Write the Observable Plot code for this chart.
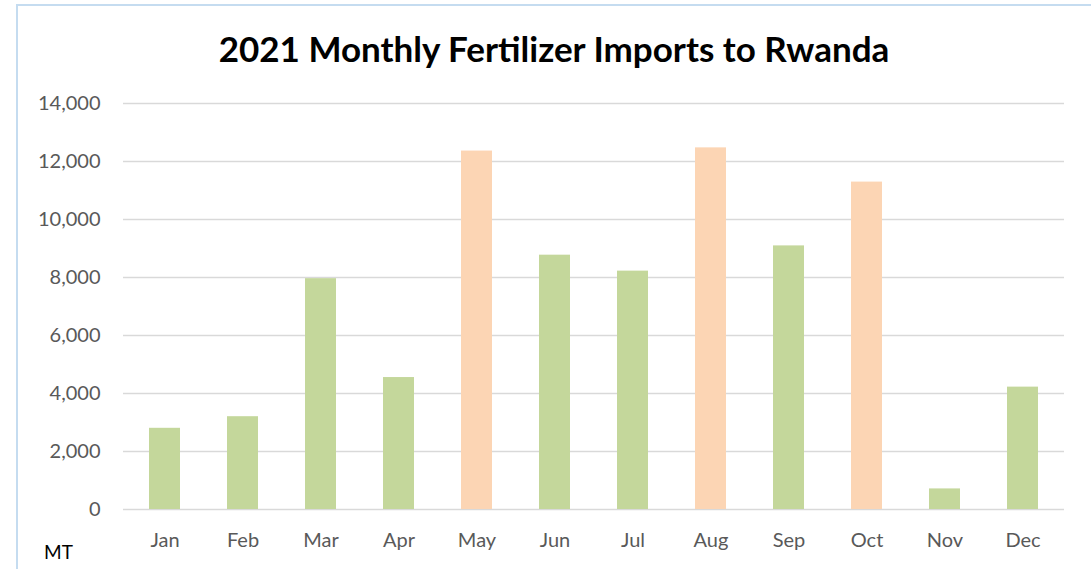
<!DOCTYPE html>
<html>
<head>
<meta charset="utf-8">
<script src="https://cdn.jsdelivr.net/npm/d3@7"></script>
<script src="https://cdn.jsdelivr.net/npm/@observablehq/plot@0.6"></script>
<style>
  html, body { margin: 0; padding: 0; background: #fff; overflow: hidden; }
  #wrap { position: relative; width: 1091px; height: 569px; overflow: hidden; font-family: Lato, "Open Sans", sans-serif; }
  #frame { position: absolute; left: 16px; top: 4px; width: 1200px; height: 700px; border: 2px solid #c5dcf0; box-sizing: border-box; }
  #title { position: absolute; left: 0; width: 1108px; top: 27px; text-align: center; font-weight: bold; font-size: 35px; color: #000; }
  #unit { position: absolute; left: 44px; top: 540px; font-size: 19px; color: #000; }
  #chart { position: absolute; left: 0; top: 0; }
</style>
</head>
<body>
<div id="wrap">
  <div id="frame"></div>
  <div id="chart"></div>
  <div id="title">2021 Monthly Fertilizer Imports to Rwanda</div>
  <div id="unit">MT</div>
</div>
<script>
const months = ["Jan","Feb","Mar","Apr","May","Jun","Jul","Aug","Sep","Oct","Nov","Dec"];
const imports = [2800, 3200, 7960, 4550, 12360, 8770, 8220, 12470, 9090, 11290, 710, 4220];
const highlighted = ["May","Aug","Oct"];
const yTicks = [0, 2000, 4000, 6000, 8000, 10000, 12000, 14000];

const data = months.map((m, i) => ({month: m, value: imports[i], group: highlighted.includes(m) ? "peak" : "normal"}));

const chart = Plot.plot({
  width: 1091,
  height: 569,
  marginLeft: 123,
  marginRight: 27,
  marginTop: 103,
  marginBottom: 60,
  style: {fontFamily: "Lato, 'Open Sans', sans-serif", fontSize: "20px", color: "#595959", background: "transparent"},
  x: {domain: months, paddingInner: 0.6, paddingOuter: 0.3, label: null, tickSize: 0, tickPadding: 23},
  y: {domain: [0, 14000], ticks: yTicks, label: null, tickSize: 0, tickPadding: 23, tickFormat: d3.format(",")},
  color: {domain: ["normal", "peak"], range: ["#c4d79b", "#fcd5b4"]},
  marks: [
    Plot.gridY(yTicks, {stroke: "#d9d9d9", strokeOpacity: 1, strokeWidth: 1.5}),
    Plot.barY(data, {x: "month", y: "value", fill: "group"}),
    Plot.axisX({tickSize: 0, tickPadding: 23, fill: "#595959"}),
    Plot.axisY({ticks: yTicks, tickSize: 0, tickPadding: 23, tickFormat: d3.format(","), fill: "#595959"})
  ]
});
document.getElementById("chart").appendChild(chart);
</script>
</body>
</html>
